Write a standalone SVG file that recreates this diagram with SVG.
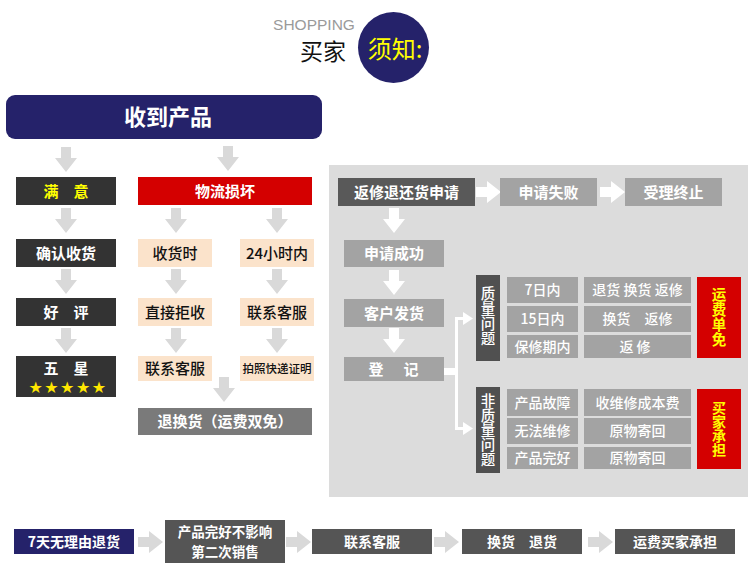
<svg xmlns="http://www.w3.org/2000/svg" width="750" height="573" viewBox="0 0 750 573">
<defs>
<style>
text{font-family:"Microsoft YaHei","Noto Sans CJK SC","Noto Sans",sans-serif;text-anchor:middle}
.w{fill:#fff;font-weight:700;font-size:15px}
.k{fill:#111;font-weight:500;font-size:15px}
.y{fill:#ffff00;font-weight:700;font-size:15px}
.v{writing-mode:vertical-rl}
.navy{fill:#25226a}
.dk{fill:#333}
.red{fill:#d40000}
.peach{fill:#fbe3cb}
.g7{fill:#7a7a7a}
.g5{fill:#595959}
.ga{fill:#a3a3a3}
.qb{fill:#505050}
.b5{fill:#555}
</style>
<path id="da" d="M-5,0 h10 v11 h6 l-11,14 l-11,-14 h6 z"/>
<path id="ra" d="M0,-5 v10 h11 v6 l14,-11 l-14,-11 v6 z"/>
</defs>
<rect width="750" height="573" fill="#fff"/>

<g id="header">
<text x="314" y="29.5" style="font-family:'Liberation Sans',Arial,sans-serif;font-size:15.5px;fill:#9a9a9a">SHOPPING</text>
<text x="323" y="59.5" style="font-size:23px;fill:#111">买家</text>
<circle cx="393.5" cy="47.5" r="35.5" fill="#25226a"/>
<text x="395" y="58" style="font-size:24px;fill:#ffff00">须知:</text>
</g>

<g id="panel"><rect x="329" y="165" width="419" height="332" fill="#dcdcdc"/></g>

<g id="connectors">
<g fill="#d9d9d9">
<use href="#da" x="66" y="147"/><use href="#da" x="228" y="146"/>
<use href="#da" x="66" y="208"/><use href="#da" x="66" y="269"/><use href="#da" x="66" y="328"/>
<use href="#da" x="176" y="208"/><use href="#da" x="176" y="269"/><use href="#da" x="176" y="328"/>
<use href="#da" x="277" y="208"/><use href="#da" x="277" y="269"/><use href="#da" x="277" y="328"/>
<use href="#da" x="224" y="377"/>
<use href="#ra" x="138" y="542"/><use href="#ra" x="286" y="542"/><use href="#ra" x="434" y="542"/><use href="#ra" x="588" y="542"/>
</g>
<g fill="#fff">
<use href="#da" x="394" y="208"/><use href="#da" x="394" y="270"/><use href="#da" x="394" y="328"/>
<use href="#ra" x="476" y="192"/><use href="#ra" x="600" y="192"/>
<rect x="444" y="368" width="14" height="7"/>
<rect x="455" y="317" width="3" height="113"/>
<rect x="455" y="317" width="9" height="3"/>
<rect x="455" y="427" width="9" height="3"/>
<polygon points="463,312 473,318.5 463,325"/>
<polygon points="463,422 473,428.5 463,435"/>
</g>
</g>

<g id="n-receive"><rect x="6" y="95" width="316" height="44" rx="9" class="navy"/><text x="168" y="125" class="w" style="font-size:22px">收到产品</text></g>

<g id="n-satisfied"><rect x="16" y="177" width="100" height="28" class="dk"/><text x="66" y="196.5" class="y">满　意</text></g>
<g id="n-damage"><rect x="138" y="177" width="174" height="28" class="red"/><text x="225" y="196.5" class="w">物流损坏</text></g>

<g id="n-confirm"><rect x="16" y="239" width="100" height="28" class="dk"/><text x="66" y="258.5" class="w">确认收货</text></g>
<g id="n-good"><rect x="16" y="298" width="100" height="28" class="dk"/><text x="66" y="317.5" class="w">好　评</text></g>
<g id="n-five"><rect x="16" y="356" width="100" height="41" class="dk"/><text x="66" y="374" class="w">五　星</text><text x="68" y="393" style="fill:#ffe600;font-size:16px;letter-spacing:1.5px;font-family:'DejaVu Sans',sans-serif">★★★★★</text></g>

<g id="n-onreceipt"><rect x="138" y="239" width="74" height="28" class="peach"/><text x="175" y="258.5" class="k">收货时</text></g>
<g id="n-24h"><rect x="240" y="239" width="74" height="28" class="peach"/><text x="277" y="258.5" class="k">24小时内</text></g>
<g id="n-reject"><rect x="138" y="298" width="74" height="28" class="peach"/><text x="175" y="317.5" class="k">直接拒收</text></g>
<g id="n-contact1"><rect x="240" y="298" width="74" height="28" class="peach"/><text x="277" y="317.5" class="k">联系客服</text></g>
<g id="n-contact2"><rect x="138" y="356" width="74" height="25" class="peach"/><text x="175" y="374" class="k">联系客服</text></g>
<g id="n-photo"><rect x="240" y="356" width="74" height="25" class="peach"/><text x="277" y="373" class="k" style="font-size:11.5px">拍照快递证明</text></g>
<g id="n-return"><rect x="138" y="408" width="174" height="27" class="g7"/><text x="225" y="427" class="w">退换货（运费双免）</text></g>

<g id="n-apply"><rect x="338" y="178" width="137" height="28" class="g5"/><text x="406.5" y="197.5" class="w">返修退还货申请</text></g>
<g id="n-fail"><rect x="500" y="178" width="97" height="28" class="ga"/><text x="548.5" y="197.5" class="w">申请失败</text></g>
<g id="n-end"><rect x="625" y="178" width="97" height="28" class="ga"/><text x="673.5" y="197.5" class="w">受理终止</text></g>
<g id="n-success"><rect x="344" y="240" width="100" height="27" class="ga"/><text x="394" y="259" class="w">申请成功</text></g>
<g id="n-ship"><rect x="344" y="299" width="100" height="28" class="ga"/><text x="394" y="318.5" class="w">客户发货</text></g>
<g id="n-register"><rect x="344" y="357" width="100" height="24" class="ga"/><text x="376" y="374.5" class="w">登</text><text x="411" y="374.5" class="w">记</text></g>

<g id="n-quality"><rect x="476" y="275" width="24" height="86" class="qb"/>
<text x="488" y="316" class="w v" style="font-weight:500;font-size:14.5px;letter-spacing:0.5px">质量问题</text></g>
<g id="n-7d"><rect x="507" y="277" width="71" height="26" class="ga"/><text x="542.5" y="295" class="w" style="font-size:14px;font-weight:500">7日内</text></g>
<g id="n-15d"><rect x="507" y="306" width="71" height="26" class="ga"/><text x="542.5" y="324" class="w" style="font-size:14px;font-weight:500">15日内</text></g>
<g id="n-warranty"><rect x="507" y="335" width="71" height="23" class="ga"/><text x="542.5" y="351.5" class="w" style="font-size:14px;font-weight:500">保修期内</text></g>
<g id="n-all"><rect x="584" y="277" width="107" height="26" class="ga"/><text x="637.5" y="295" class="w" style="font-size:14px;font-weight:500">退货 换货 返修</text></g>
<g id="n-exch"><rect x="584" y="306" width="107" height="26" class="ga"/><text x="637.5" y="324" class="w" style="font-size:14px;font-weight:500">换货　返修</text></g>
<g id="n-repair"><rect x="584" y="335" width="107" height="23" class="ga"/><text x="635" y="351.5" class="w" style="font-size:14px;font-weight:500">返 修</text></g>
<g id="n-free"><rect x="697" y="277" width="44" height="81" class="red"/>
<text x="719" y="317.5" class="y v" style="font-size:14.5px;letter-spacing:0.5px">运费单免</text></g>

<g id="n-nonquality"><rect x="476" y="387" width="24" height="86" class="qb"/>
<text x="488" y="430" class="w v" style="font-weight:500;font-size:14.5px;letter-spacing:0.2px">非质量问题</text></g>
<g id="n-fault"><rect x="507" y="389" width="71" height="27" class="ga"/><text x="542.5" y="407.5" class="w" style="font-size:14px;font-weight:500">产品故障</text></g>
<g id="n-cannot"><rect x="507" y="418" width="71" height="26" class="ga"/><text x="542.5" y="436" class="w" style="font-size:14px;font-weight:500">无法维修</text></g>
<g id="n-intact"><rect x="507" y="447" width="71" height="22" class="ga"/><text x="542.5" y="463" class="w" style="font-size:14px;font-weight:500">产品完好</text></g>
<g id="n-cost"><rect x="584" y="389" width="107" height="27" class="ga"/><text x="637.5" y="407.5" class="w" style="font-size:14px;font-weight:500">收维修成本费</text></g>
<g id="n-back1"><rect x="584" y="418" width="107" height="26" class="ga"/><text x="637.5" y="436" class="w" style="font-size:14px;font-weight:500">原物寄回</text></g>
<g id="n-back2"><rect x="584" y="447" width="107" height="22" class="ga"/><text x="637.5" y="463" class="w" style="font-size:14px;font-weight:500">原物寄回</text></g>
<g id="n-buyer"><rect x="697" y="389" width="44" height="80" class="red"/>
<text x="719" y="429" class="y v" style="font-size:14px">买家承担</text></g>

<g id="b-7day"><rect x="14" y="529" width="120" height="25" class="navy"/><text x="74" y="547" class="w" style="font-size:14px">7天无理由退货</text></g>
<g id="b-intact"><rect x="165" y="520" width="120" height="43" class="b5"/><text x="225" y="537" class="w" style="font-size:13.5px">产品完好不影响</text><text x="225" y="556.5" class="w" style="font-size:13.5px">第二次销售</text></g>
<g id="b-contact"><rect x="312" y="529" width="120" height="25" class="b5"/><text x="372" y="547" class="w" style="font-size:14px">联系客服</text></g>
<g id="b-exchange"><rect x="462" y="529" width="120" height="25" class="b5"/><text x="522" y="547" class="w" style="font-size:14px">换货　退货</text></g>
<g id="b-buyerpays"><rect x="615" y="529" width="120" height="25" class="b5"/><text x="675" y="547" class="w" style="font-size:14px">运费买家承担</text></g>
</svg>
